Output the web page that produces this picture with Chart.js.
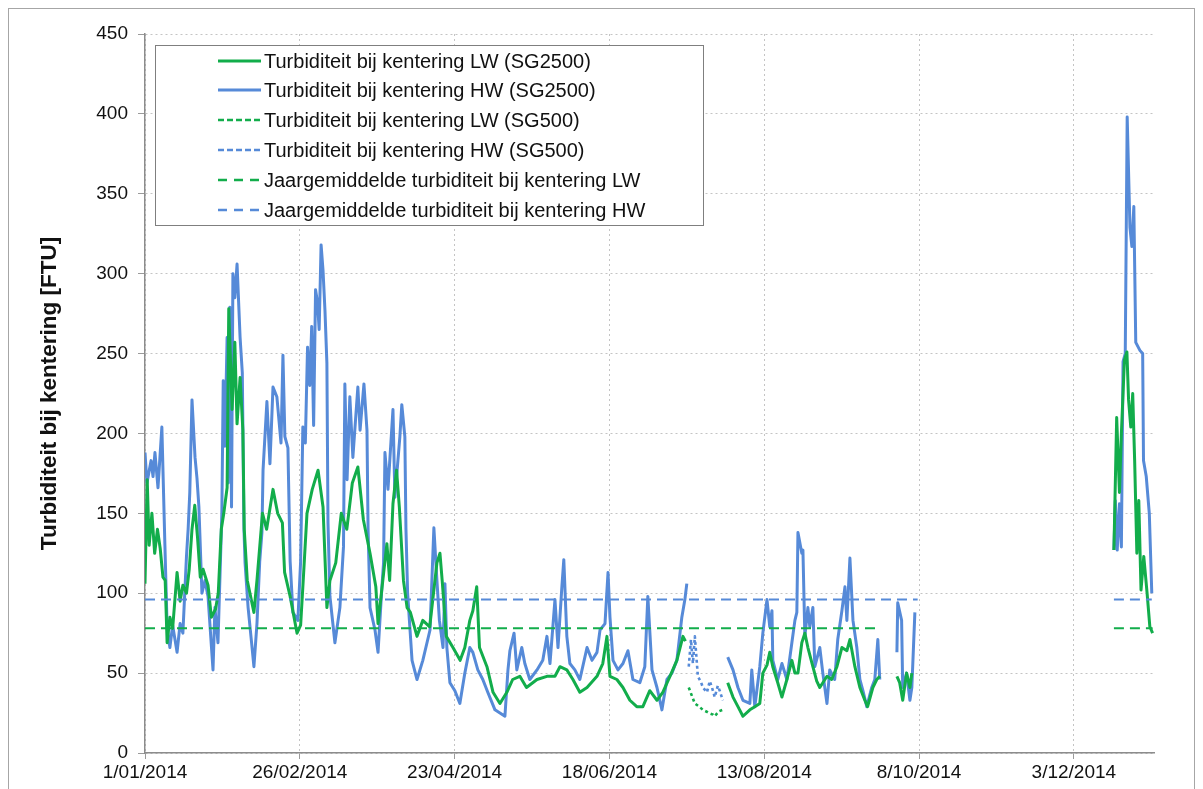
<!DOCTYPE html>
<html><head><meta charset="utf-8">
<script src="https://cdn.jsdelivr.net/npm/chart.js@4.4.0/dist/chart.umd.min.js"></script>
<style>html,body{margin:0;padding:0;background:#fff;}#wrap{position:relative;width:1203px;height:789px;}</style>
</head><body><div id="wrap"><canvas id="c" width="1203" height="789"></canvas></div>
<script>
// x values are days since 1/01/2014
const startYear = 2014;
const xTickDays = [0, 56, 112, 168, 224, 280, 336];
const yAxisMax = 450;
const yAxisStep = 50;

const seriesLabels = [
  'Turbiditeit bij kentering LW (SG2500)',
  'Turbiditeit bij kentering HW (SG2500)',
  'Turbiditeit bij kentering LW (SG500)',
  'Turbiditeit bij kentering HW (SG500)',
  'Jaargemiddelde turbiditeit bij kentering LW',
  'Jaargemiddelde turbiditeit bij kentering HW'
];

const lwSG2500 = [[0,106],[0.8,171],[1.5,130],[2.5,150],[3.5,125],[4.5,140],[5.5,128],[6.5,110],[7.3,108],[8,69],[9,85],[10,78],[11.6,113],[12.7,95],[13.7,105],[15,100],[16,115],[17,140],[18,155],[19,135],[20,110],[21,115],[22.8,105],[24,85],[25.5,90],[26.5,100],[27.6,140],[28.5,150],[29.7,166],[30.3,278],[31.5,215],[32.5,257],[33.3,206],[34.4,235],[35.4,202],[35.9,140],[37,108],[39.4,88],[40.5,108],[42.5,150],[44,140],[46.3,165],[48,150],[49.7,144],[50.5,113],[52.5,98],[55,75],[56.3,80],[57.3,110],[58.6,150],[60.5,165],[62.6,177],[64.4,154],[65.8,91],[66.9,108],[69,119],[71,150],[73,140],[75,169],[77,179],[79,146],[81.4,125],[83.5,104],[84.3,81],[87.5,131],[88.5,108],[89.7,156],[91,177],[92,154],[93.5,108],[94.8,91],[96,88],[98.4,73],[100.5,83],[103,79],[105.6,119],[106.7,125],[107.5,108],[109,73],[111.4,66],[114,58],[115.7,66],[117.5,83],[118.6,89],[120,104],[121,66],[123.7,54],[125.9,38],[128.4,31],[130.9,38],[133,46],[135.6,48],[138,41],[141.8,46],[145.4,48],[148.3,48],[150.1,54],[152.6,52],[154.8,46],[157.3,38],[159.9,41],[163.5,48],[165.6,56],[167.1,73],[168.2,48],[170.7,46],[172.9,41],[175.4,33],[177.9,29],[180.1,29],[182.6,39],[185.2,33],[187.3,38],[189.9,48],[192.4,58],[194.6,73],[195.5,70],[196,null],
  [210.8,44],[212.7,35],[214.5,29],[216.3,23],[218.8,27],[220.6,29],[222.4,31],[223.5,50],[225,55],[226,63],[227.1,54],[228.9,44],[230.4,35],[232.2,46],[234,58],[235.1,50],[236.2,50],[237.6,69],[238.7,75],[239.8,66],[241.6,54],[243,45],[244.1,41],[246.7,48],[248.4,46],[250.3,54],[252.1,66],[253.9,64],[255,71],[256.8,54],[258.6,41],[260.4,33],[261.4,29],[263.3,41],[264.7,46],[265.8,48],[266,null],
  [272,48],[273,44],[274.1,33],[275.5,50],[276.7,41],[277.4,50],[278,null],
  [350.5,127],[351.5,210],[352.5,163],[353.2,200],[354.3,246],[355.2,251],[355.8,221],[356.6,204],[357.3,225],[358,183],[358.8,125],[359.5,158],[360.3,102],[361.3,123],[362.5,100],[363.5,79],[364.5,75]];

const hwSG2500 = [[0,188],[0.7,169],[2.2,183],[2.9,173],[3.6,188],[4.7,166],[6.1,204],[7.2,130],[8,79],[9,66],[10,80],[11.6,63],[12.7,81],[13.7,75],[15,123],[15.6,140],[16.2,163],[17,221],[18.1,185],[18.8,172],[19.5,154],[20.6,100],[21.7,108],[22.8,98],[24.6,52],[25.3,91],[26.4,69],[27.8,150],[28.3,233],[28.9,192],[29.7,260],[30.1,169],[30.7,279],[31.3,154],[31.8,300],[32.5,285],[33.3,306],[34.4,260],[35.2,238],[35.8,140],[36.2,119],[37.3,91],[38.5,70],[39.4,54],[40.5,81],[41.5,120],[42.3,138],[42.7,177],[44.1,220],[45.2,181],[46.3,229],[47.7,223],[49.2,194],[49.9,249],[50.6,198],[51.7,191],[52.5,120],[53.5,88],[55.3,83],[56.3,120],[57.1,204],[58,194],[58.8,254],[59.6,230],[60.3,267],[61,205],[61.7,290],[62.4,282],[63,265],[63.7,318],[64.4,302],[65.1,277],[65.8,244],[66.2,144],[66.9,98],[68.7,69],[70.5,91],[71.8,129],[72.3,231],[73.1,171],[74.1,223],[75.2,185],[77,229],[77.8,202],[79.2,231],[80.3,202],[80.7,140],[81.4,91],[83.2,77],[84.3,63],[85.7,104],[86.3,119],[86.8,188],[87.9,165],[89.7,215],[90.4,160],[92.2,198],[92.9,218],[94,198],[94.4,140],[95,100],[96.6,58],[98.4,46],[100.5,58],[103.1,77],[104.5,141],[105.6,108],[106.5,83],[107.8,66],[108.5,106],[109.2,66],[110.3,44],[112.1,39],[113.9,31],[115.7,50],[117.5,66],[118.6,63],[120.4,52],[122.2,46],[124,38],[126.6,27],[128.4,25],[130.2,23],[131.3,52],[132,64],[133.5,75],[134.5,52],[136.3,66],[137.4,56],[139.2,46],[141.8,52],[143.9,58],[145.4,73],[146.5,56],[148.3,96],[149.4,66],[150.8,104],[151.5,121],[152.6,73],[153.7,56],[155.5,52],[157.3,46],[159.9,66],[161.7,58],[163.5,63],[164.6,77],[166.4,81],[167.5,113],[168.2,85],[169.3,58],[171.1,52],[172.9,56],[174.7,64],[176.5,46],[179,44],[180.8,54],[181.9,98],[183.4,52],[185.2,41],[187,27],[188.8,46],[190.6,50],[192.4,58],[194.2,85],[195.3,96],[196,106],[196.4,null],
  [210.8,60],[212.7,52],[214.5,41],[216.3,33],[218.8,31],[219.5,52],[220.6,29],[222.4,54],[223.5,75],[225,96],[226,79],[226.8,89],[227.1,58],[228.9,46],[230.4,56],[232.2,46],[234,69],[235.1,83],[235.8,88],[236.2,138],[237.6,125],[238,127],[238.7,73],[239.8,91],[240.5,79],[241.6,91],[242.3,54],[244.1,66],[245.2,50],[246.7,31],[247.7,52],[249.5,46],[250.6,71],[252.1,89],[253.2,104],[253.9,83],[255,122],[256.1,83],[257.5,66],[258.6,46],[259.7,39],[261.1,29],[262.9,41],[264,46],[265.1,71],[265.8,46],[266,null],
  [272,63],[272.3,94],[273.7,83],[274.1,41],[275.5,50],[276.7,33],[277.4,41],[278.5,88],[279,null],
  [350.5,127],[351,158],[351.7,127],[352.5,156],[353.2,129],[353.8,245],[354.6,250],[355.3,398],[356.3,329],[357,317],[357.7,342],[358.4,257],[359.9,252],[360.9,250],[361.2,183],[362.2,173],[363.3,150],[364.2,100]];

const lwSG500 = [[196.7,41],[198,35],[198.9,31],[200.5,29],[201.8,27],[203,26],[204,25],[205.5,24],[206.1,23],[207.5,26],[209,27]];
const hwSG500 = [[196.7,54],[197.5,71],[198.2,56],[198.9,73],[200,48],[201.2,44],[201.8,41],[203.3,38],[204.3,45],[205.1,41],[206.1,35],[207.2,42],[207.9,39],[209,33]];

const lwMean = [[0,78],[266,78],[267,null],[350.5,78],[364.5,78]];
const hwMean = [[0,96],[279.5,96],[280,null],[350.5,96],[364.2,96]];

const GREEN = '#12ad4b';
const BLUE = '#568ad8';
const FONT = "'Liberation Sans', Arial, sans-serif";

function pts(a) { return a.map(p => ({x: p[0], y: p[1]})); }
function fmtDay(d) {
  const dt = new Date(Date.UTC(startYear, 0, 1) + d * 86400000);
  const m = dt.getUTCMonth() + 1;
  return dt.getUTCDate() + '/' + (m < 10 ? '0' + m : m) + '/' + dt.getUTCFullYear();
}

const styles = [
  {color: GREEN, dash: [], width: 3, legendDash: []},
  {color: BLUE, dash: [], width: 3, legendDash: []},
  {color: GREEN, dash: [3, 3], width: 2.6, legendDash: [6, 3]},
  {color: BLUE, dash: [3, 3], width: 2.6, legendDash: [6, 3]},
  {color: GREEN, dash: [10, 6], width: 2, legendDash: [9, 7]},
  {color: BLUE, dash: [10, 6], width: 2, legendDash: [9, 7]}
];
const seriesData = [lwSG2500, hwSG2500, lwSG500, hwSG500, lwMean, hwMean];

const datasets = seriesData.map((d, i) => ({
  label: seriesLabels[i],
  data: pts(d),
  borderColor: styles[i].color,
  backgroundColor: styles[i].color,
  borderWidth: styles[i].width,
  borderDash: styles[i].dash,
  pointRadius: 0,
  tension: 0,
  spanGaps: false,
  fill: false,
  order: i < 4 ? 1 : 0
}));

const framePlugin = {
  id: 'frame',
  beforeDraw(chart) {
    const ctx = chart.ctx;
    ctx.save();
    ctx.fillStyle = '#fff';
    ctx.fillRect(0, 0, chart.width, chart.height);
    ctx.strokeStyle = '#a6a6a6';
    ctx.lineWidth = 1;
    ctx.strokeRect(8.5, 8.5, chart.width - 17, chart.height + 20);
    ctx.restore();
  },
  afterDraw(chart) {
    const ctx = chart.ctx;
    const bx = 155.5, by = 45.5, bw = 548, bh = 180;
    ctx.save();
    ctx.fillStyle = '#fff';
    ctx.fillRect(bx, by, bw, bh);
    ctx.strokeStyle = '#7f7f7f';
    ctx.lineWidth = 1;
    ctx.strokeRect(bx, by, bw, bh);
    ctx.font = '20px ' + FONT;
    ctx.textBaseline = 'middle';
    ctx.fillStyle = '#111';
    const rowY = [61, 90, 120, 150, 180, 210];
    for (let i = 0; i < seriesLabels.length; i++) {
      const y = rowY[i];
      ctx.beginPath();
      ctx.setLineDash(styles[i].legendDash);
      ctx.strokeStyle = styles[i].color;
      ctx.lineWidth = i < 2 ? 3 : 2.5;
      ctx.moveTo(218, y);
      ctx.lineTo(261, y);
      ctx.stroke();
      ctx.setLineDash([]);
      ctx.fillText(seriesLabels[i], 264, y + 1);
    }
    ctx.restore();
  }
};

new Chart(document.getElementById('c'), {
  type: 'line',
  data: {datasets},
  options: {
    responsive: false,
    animation: false,
    devicePixelRatio: 1,
    layout: {padding: {left: 0, top: 34, right: 49, bottom: 0}},
    plugins: {legend: {display: false}, tooltip: {enabled: false}},
    elements: {line: {borderCapStyle: 'butt', borderJoinStyle: 'round'}},
    scales: {
      x: {
        type: 'linear', min: 0, max: 365,
        afterBuildTicks(scale) { scale.ticks = xTickDays.map(v => ({value: v})); },
        afterFit(scale) { scale.height = 36; },
        ticks: {callback: v => fmtDay(v), font: {family: FONT, size: 19}, color: '#111', padding: 2, maxRotation: 0, autoSkip: false},
        grid: {color: '#c4c4c4', lineWidth: 1, tickLength: 6, tickColor: '#9a9a9a', drawOnChartArea: true},
        border: {display: true, color: '#8c8c8c', width: 1.5, dash: [2, 3]}
      },
      y: {
        min: 0, max: yAxisMax,
        afterFit(scale) { scale.width = 145; },
        ticks: {stepSize: yAxisStep, font: {family: FONT, size: 19}, color: '#111', padding: 10},
        grid: {color: '#c4c4c4', lineWidth: 1, tickLength: 7, tickColor: '#9a9a9a'},
        border: {display: true, color: '#8c8c8c', width: 1.5, dash: [2, 3]},
        title: {display: true, text: 'Turbiditeit bij kentering [FTU]', font: {family: FONT, size: 22.5, weight: 'bold'}, color: '#111', padding: {top: 36, bottom: 0}}
      }
    }
  },
  plugins: [framePlugin]
});
</script></body></html>
